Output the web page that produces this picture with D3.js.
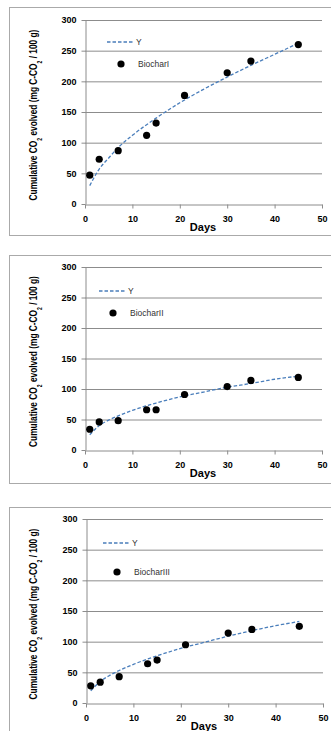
<!DOCTYPE html>
<html>
<head>
<meta charset="utf-8">
<script src="https://cdn.jsdelivr.net/npm/d3@7"></script>
<style>
  body { margin: 0; background: #fff; }
  text { font-family: "Liberation Sans", Arial, sans-serif; }
</style>
</head>
<body>
<div id="chart"></div>
<script>
// measured days
var days = [1, 3, 7, 13, 15, 21, 30, 35, 45];
var biochar1 = [47, 73, 87, 112, 132, 177, 214, 233, 260];
var biochar2 = [34, 46, 48, 66, 66, 91, 104, 114, 119];
var biochar3 = [28, 34, 43, 64, 70, 95, 114, 120, 125];

// fitted curve (Y)
var fitDays = [1, 3, 5, 7, 10, 15, 20, 25, 30, 35, 40, 45];
var fit1 = [30, 57, 75, 92, 112, 140, 165, 187, 207, 226, 244, 262];
var fit2 = [25, 40, 49, 56, 65, 77, 87, 95, 103, 109, 116, 121];
var fit3 = [20, 35, 45, 53, 63, 77, 89, 99, 109, 118, 126, 133];

var xTicks = [0, 10, 20, 30, 40, 50];
var yTicks = [0, 50, 100, 150, 200, 250, 300];
var names = ["BiocharI", "BiocharII", "BiocharIII"];

var svg = d3.select("#chart").append("svg")
    .attr("width", 331)
    .attr("height", 731);

var panels = [
  {frameTop: 7,   frameBottom: 235, top: 20,  bottom: 204, left: 85, right: 322, pts: biochar1, fit: fit1, lg: [107, 42, 121, 64]},
  {frameTop: 255, frameBottom: 483, top: 267, bottom: 450, left: 85, right: 322, pts: biochar2, fit: fit2, lg: [99, 291, 113, 313]},
  {frameTop: 507, frameBottom: 760, top: 519, bottom: 703, left: 86, right: 323, pts: biochar3, fit: fit3, lg: [103, 543, 117, 572]}
];

panels.forEach(function(p, i) {
  var g = svg.append("g");

  g.append("rect")
    .attr("x", 9.5).attr("y", p.frameTop + 0.5)
    .attr("width", 340).attr("height", p.frameBottom - p.frameTop)
    .attr("fill", "none")
    .attr("stroke", "#aaa");

  var x = d3.scaleLinear().domain([0, 50]).range([p.left, p.right]);
  var y = d3.scaleLinear().domain([0, 300]).range([p.bottom, p.top]);

  // grid
  g.selectAll(".grid").data(yTicks.slice(1)).enter().append("line")
    .attr("x1", p.left).attr("x2", p.right)
    .attr("y1", function(d) { return y(d) + 0.5; })
    .attr("y2", function(d) { return y(d) + 0.5; })
    .attr("stroke", "#8c8c8c");

  var xAxis = g.append("g")
    .attr("transform", "translate(0," + (p.bottom + 0.5) + ")")
    .call(d3.axisBottom(x).tickValues(xTicks).tickSize(4).tickSizeOuter(0));
  var yAxis = g.append("g")
    .attr("transform", "translate(" + (p.left + 0.5) + ",0)")
    .call(d3.axisLeft(y).tickValues(yTicks).tickSize(4).tickSizeOuter(0));

  [xAxis, yAxis].forEach(function(a) {
    a.select(".domain").attr("stroke", "#8c8c8c");
    a.selectAll(".tick line").attr("stroke", "#8c8c8c");
    a.selectAll("text")
      .attr("fill", "#000")
      .style("font-size", "9px")
      .style("font-weight", "bold");
  });
  xAxis.selectAll("text").attr("dy", "1.15em");
  yAxis.selectAll("text").attr("x", -9);

  // fitted curve
  var line = d3.line()
    .x(function(d, k) { return x(fitDays[k]); })
    .y(function(d) { return y(d); })
    .curve(d3.curveMonotoneX);
  g.append("path")
    .datum(p.fit)
    .attr("d", line)
    .attr("fill", "none")
    .attr("stroke", "#4a7ebb")
    .attr("stroke-width", 1.3)
    .attr("stroke-dasharray", "3.5,2");

  // points
  g.selectAll(".pt").data(p.pts).enter().append("circle")
    .attr("cx", function(d, k) { return x(days[k]); })
    .attr("cy", function(d) { return y(d); })
    .attr("r", 3.6)
    .attr("fill", "#000");

  // legend
  g.append("line")
    .attr("x1", p.lg[0]).attr("x2", p.lg[0] + 27)
    .attr("y1", p.lg[1]).attr("y2", p.lg[1])
    .attr("stroke", "#4a7ebb")
    .attr("stroke-width", 1.3)
    .attr("stroke-dasharray", "3.5,2");
  g.append("text")
    .attr("x", p.lg[0] + 29).attr("y", p.lg[1] + 3)
    .style("font-size", "8.5px").attr("fill", "#333")
    .text("Y");
  g.append("circle")
    .attr("cx", p.lg[2]).attr("cy", p.lg[3])
    .attr("r", 3.6).attr("fill", "#000");
  g.append("text")
    .attr("x", p.lg[2] + 17).attr("y", p.lg[3] + 3)
    .style("font-size", "8.5px").attr("fill", "#333")
    .text(names[i]);

  // axis titles
  g.append("text")
    .attr("x", (p.left + p.right) / 2 - 0.5)
    .attr("y", p.bottom + 27)
    .attr("text-anchor", "middle")
    .style("font-size", "11px").style("font-weight", "bold")
    .text("Days");

  var cy = (p.top + p.bottom) / 2 + 3;
  var yt = g.append("text")
    .attr("text-anchor", "middle")
    .style("font-size", "11.5px").style("font-weight", "bold");
  yt.append("tspan").text("Cumulative CO");
  yt.append("tspan").attr("baseline-shift", "sub").style("font-size", "7px").text("2");
  yt.append("tspan").text(" evolved (mg C-CO");
  yt.append("tspan").attr("baseline-shift", "sub").style("font-size", "7px").text("2");
  yt.append("tspan").text(" / 100 g)");
  // squeeze to the narrow width of the original title
  var w = yt.node().getComputedTextLength();
  var sx = 171 / w;
  yt.attr("transform", "translate(37," + cy + ") rotate(-90) scale(" + sx + ",1)");
});
</script>
</body>
</html>
